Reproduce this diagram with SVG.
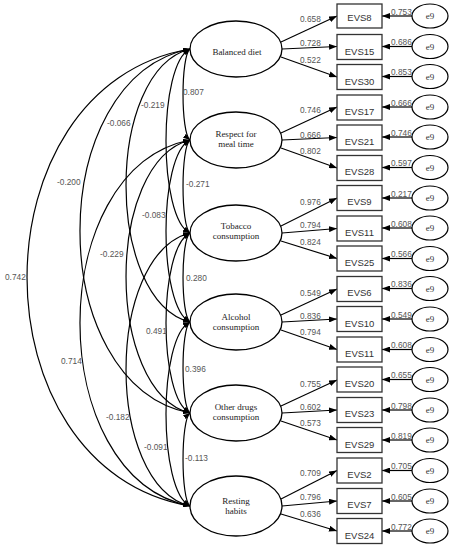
<svg xmlns="http://www.w3.org/2000/svg" width="455" height="550" viewBox="0 0 455 550">
<style>
.lat{fill:#fff;stroke:#000;stroke-width:1.3}
.box{fill:#fff;stroke:#333;stroke-width:1.3}
.err{fill:#fff;stroke:#000;stroke-width:1.2}
.lt{font-family:"Liberation Serif",serif;font-size:9px;fill:#222;text-anchor:middle}
.bt{font-family:"Liberation Sans",sans-serif;font-size:9.5px;fill:#333;text-anchor:middle}
.et{font-family:"Liberation Serif",serif;font-size:9px;fill:#333;text-anchor:middle}
.num{font-family:"Liberation Sans",sans-serif;font-size:8.3px;fill:#555}
.ln{fill:none;stroke:#000;stroke-width:1.2}
.arc{fill:none;stroke:#000;stroke-width:1.2;marker-start:url(#ah2);marker-end:url(#ah2)}
.arr{marker-end:url(#ah)}
</style>
<defs>
<marker id="ah" viewBox="0 0 8 6" refX="8" refY="3" markerWidth="8" markerHeight="6" orient="auto" markerUnits="userSpaceOnUse"><path d="M0,0 L8,3 L0,6 z" fill="#000"/></marker>
<marker id="ah2" viewBox="0 0 7 5" refX="7" refY="2.5" markerWidth="7" markerHeight="5" orient="auto-start-reverse" markerUnits="userSpaceOnUse"><path d="M0,0 L7,2.5 L0,5 z" fill="#000"/></marker>
</defs>

<g id="connectors">
<g id="covariances">
<path class="arc" d="M190,49 C180.7,56 180.7,133 190,140"/>
<path class="arc" d="M190,49 C158,64 158,218 190,233"/>
<path class="arc" d="M190,49 C104.7,71 104.7,300 190,322"/>
<path class="arc" d="M190,49 C43.3,78 43.3,384 190,413"/>
<path class="arc" d="M190,49 C-27.3,86 -27.3,469 190,506"/>
<path class="arc" d="M190,140 C180.7,147 180.7,226 190,233"/>
<path class="arc" d="M190,140 C158,155 158,307 190,322"/>
<path class="arc" d="M190,140 C104.7,162 104.7,391 190,413"/>
<path class="arc" d="M190,140 C43.3,169 43.3,477 190,506"/>
<path class="arc" d="M190,233 C180.7,240 180.7,315 190,322"/>
<path class="arc" d="M190,233 C158,248 158,398 190,413"/>
<path class="arc" d="M190,233 C104.7,255 104.7,484 190,506"/>
<path class="arc" d="M190,322 C180.7,329 180.7,406 190,413"/>
<path class="arc" d="M190,322 C158,337 158,491 190,506"/>
<path class="arc" d="M190,413 C180.7,420 180.7,499 190,506"/>
</g>
<g id="cov-labels" class="num">
<text x="183" y="95">0.807</text>
<text x="141" y="108">-0.219</text>
<text x="107" y="126">-0.066</text>
<text x="57" y="185">-0.200</text>
<text x="5" y="280">0.742</text>
<text x="186" y="187">-0.271</text>
<text x="142" y="218">-0.083</text>
<text x="100" y="257">-0.229</text>
<text x="61" y="364">0.714</text>
<text x="186" y="281">0.280</text>
<text x="146" y="334">0.491</text>
<text x="106" y="420">-0.182</text>
<text x="185" y="372">0.396</text>
<text x="144" y="450">-0.091</text>
<text x="185" y="461">-0.113</text>
</g>
<g id="loadings">
<line class="ln arr" x1="281" y1="42" x2="337" y2="16"/>
<line class="ln arr" x1="282" y1="49" x2="337" y2="46.5"/>
<line class="ln arr" x1="281" y1="57" x2="337" y2="77"/>
<line class="ln arr" x1="281" y1="133" x2="337" y2="107"/>
<line class="ln arr" x1="282" y1="140" x2="337" y2="137.5"/>
<line class="ln arr" x1="281" y1="148" x2="337" y2="168"/>
<line class="ln arr" x1="281" y1="226" x2="337" y2="198"/>
<line class="ln arr" x1="282" y1="233" x2="337" y2="228.5"/>
<line class="ln arr" x1="281" y1="241" x2="337" y2="258.5"/>
<line class="ln arr" x1="281" y1="315" x2="337" y2="289"/>
<line class="ln arr" x1="282" y1="322" x2="337" y2="319"/>
<line class="ln arr" x1="281" y1="330" x2="337" y2="349.5"/>
<line class="ln arr" x1="281" y1="406" x2="337" y2="380"/>
<line class="ln arr" x1="282" y1="413" x2="337" y2="410"/>
<line class="ln arr" x1="281" y1="421" x2="337" y2="440"/>
<line class="ln arr" x1="281" y1="499" x2="337" y2="470.5"/>
<line class="ln arr" x1="282" y1="506" x2="337" y2="501"/>
<line class="ln arr" x1="281" y1="514" x2="337" y2="531"/>
</g>
<g id="loading-labels" class="num">
<text x="300" y="22">0.658</text>
<text x="300" y="46">0.728</text>
<text x="300" y="63">0.522</text>
<text x="300" y="113">0.746</text>
<text x="300" y="138">0.666</text>
<text x="300" y="154">0.802</text>
<text x="300" y="205">0.976</text>
<text x="300" y="228">0.794</text>
<text x="300" y="245">0.824</text>
<text x="300" y="296">0.549</text>
<text x="300" y="319">0.836</text>
<text x="300" y="335">0.794</text>
<text x="300" y="387">0.755</text>
<text x="300" y="410">0.602</text>
<text x="300" y="426">0.573</text>
<text x="300" y="476">0.709</text>
<text x="300" y="500">0.796</text>
<text x="300" y="517">0.636</text>
</g>
<g id="error-paths">
<line class="ln arr" x1="412" y1="16" x2="382" y2="16"/>
<line class="ln arr" x1="412" y1="46.5" x2="382" y2="46.5"/>
<line class="ln arr" x1="412" y1="76.5" x2="382" y2="76.5"/>
<line class="ln arr" x1="412" y1="107" x2="382" y2="107"/>
<line class="ln arr" x1="412" y1="137" x2="382" y2="137"/>
<line class="ln arr" x1="412" y1="167.5" x2="382" y2="167.5"/>
<line class="ln arr" x1="412" y1="198" x2="382" y2="198"/>
<line class="ln arr" x1="412" y1="228" x2="382" y2="228"/>
<line class="ln arr" x1="412" y1="258.5" x2="382" y2="258.5"/>
<line class="ln arr" x1="412" y1="288.5" x2="382" y2="288.5"/>
<line class="ln arr" x1="412" y1="319" x2="382" y2="319"/>
<line class="ln arr" x1="412" y1="349.5" x2="382" y2="349.5"/>
<line class="ln arr" x1="412" y1="379.5" x2="382" y2="379.5"/>
<line class="ln arr" x1="412" y1="410" x2="382" y2="410"/>
<line class="ln arr" x1="412" y1="440" x2="382" y2="440"/>
<line class="ln arr" x1="412" y1="470.5" x2="382" y2="470.5"/>
<line class="ln arr" x1="412" y1="501" x2="382" y2="501"/>
<line class="ln arr" x1="412" y1="531" x2="382" y2="531"/>
</g>
<g id="error-labels" class="num">
<text x="391" y="14.5">0.753</text>
<text x="391" y="45">0.686</text>
<text x="391" y="75">0.853</text>
<text x="391" y="105.5">0.666</text>
<text x="391" y="135.5">0.746</text>
<text x="391" y="166">0.597</text>
<text x="391" y="196.5">0.217</text>
<text x="391" y="226.5">0.608</text>
<text x="391" y="257">0.566</text>
<text x="391" y="287">0.836</text>
<text x="391" y="317.5">0.549</text>
<text x="391" y="348">0.608</text>
<text x="391" y="378">0.655</text>
<text x="391" y="408.5">0.798</text>
<text x="391" y="438.5">0.819</text>
<text x="391" y="469">0.705</text>
<text x="391" y="499.5">0.605</text>
<text x="391" y="529.5">0.772</text>
</g>
</g>

<g id="latent-balanced"><ellipse class="lat" cx="236" cy="49" rx="46" ry="28"/><text class="lt" x="237" y="55">Balanced diet</text></g>
<g id="latent-respect"><ellipse class="lat" cx="236" cy="140" rx="46" ry="28"/><text class="lt" x="236" y="137">Respect for</text><text class="lt" x="236" y="147">meal time</text></g>
<g id="latent-tobacco"><ellipse class="lat" cx="236" cy="233" rx="46" ry="28"/><text class="lt" x="236" y="229">Tobacco</text><text class="lt" x="236" y="239">consumption</text></g>
<g id="latent-alcohol"><ellipse class="lat" cx="236" cy="322" rx="46" ry="28"/><text class="lt" x="236" y="320">Alcohol</text><text class="lt" x="236" y="330">consumption</text></g>
<g id="latent-otherdrugs"><ellipse class="lat" cx="236" cy="413" rx="46" ry="28"/><text class="lt" x="236" y="410">Other drugs</text><text class="lt" x="236" y="420">consumption</text></g>
<g id="latent-resting"><ellipse class="lat" cx="236" cy="506" rx="46" ry="30"/><text class="lt" x="236" y="504">Resting</text><text class="lt" x="236" y="514">habits</text></g>

<g id="box-evs8"><rect class="box" x="337" y="4" width="45" height="24"/><text class="bt" x="359.5" y="20.5">EVS8</text></g>
<g id="box-evs15"><rect class="box" x="337" y="34.5" width="45" height="25"/><text class="bt" x="359.5" y="54.5">EVS15</text></g>
<g id="box-evs30"><rect class="box" x="337" y="64.5" width="45" height="25"/><text class="bt" x="359.5" y="84.5">EVS30</text></g>
<g id="box-evs17"><rect class="box" x="337" y="95" width="45" height="25"/><text class="bt" x="359.5" y="114.5">EVS17</text></g>
<g id="box-evs21"><rect class="box" x="337" y="125" width="45" height="25"/><text class="bt" x="359.5" y="145">EVS21</text></g>
<g id="box-evs28"><rect class="box" x="337" y="155.5" width="45" height="25"/><text class="bt" x="359.5" y="175">EVS28</text></g>
<g id="box-evs9"><rect class="box" x="337" y="185.5" width="45" height="25"/><text class="bt" x="359.5" y="205">EVS9</text></g>
<g id="box-evs11a"><rect class="box" x="337" y="216" width="45" height="25"/><text class="bt" x="359.5" y="235.5">EVS11</text></g>
<g id="box-evs25"><rect class="box" x="337" y="246" width="45" height="25"/><text class="bt" x="359.5" y="266">EVS25</text></g>
<g id="box-evs6"><rect class="box" x="337" y="276.5" width="45" height="25"/><text class="bt" x="359.5" y="296">EVS6</text></g>
<g id="box-evs10"><rect class="box" x="337" y="306.5" width="45" height="25"/><text class="bt" x="359.5" y="326.5">EVS10</text></g>
<g id="box-evs11b"><rect class="box" x="337" y="337" width="45" height="25"/><text class="bt" x="359.5" y="356.5">EVS11</text></g>
<g id="box-evs20"><rect class="box" x="337" y="367" width="45" height="25"/><text class="bt" x="359.5" y="387">EVS20</text></g>
<g id="box-evs23"><rect class="box" x="337" y="397.5" width="45" height="25"/><text class="bt" x="359.5" y="417">EVS23</text></g>
<g id="box-evs29"><rect class="box" x="337" y="427.5" width="45" height="25"/><text class="bt" x="359.5" y="447.5">EVS29</text></g>
<g id="box-evs2"><rect class="box" x="337" y="458" width="45" height="25"/><text class="bt" x="359.5" y="477.5">EVS2</text></g>
<g id="box-evs7"><rect class="box" x="337" y="488.5" width="45" height="25"/><text class="bt" x="359.5" y="508">EVS7</text></g>
<g id="box-evs24"><rect class="box" x="337" y="518.5" width="45" height="25"/><text class="bt" x="359.5" y="538.5">EVS24</text></g>

<g id="e-1"><ellipse class="err" cx="430" cy="16" rx="18" ry="12"/><text class="et" x="430" y="19">e9</text></g>
<g id="e-2"><ellipse class="err" cx="430" cy="46.5" rx="18" ry="12"/><text class="et" x="430" y="49.5">e9</text></g>
<g id="e-3"><ellipse class="err" cx="430" cy="76.5" rx="18" ry="12"/><text class="et" x="430" y="79.5">e9</text></g>
<g id="e-4"><ellipse class="err" cx="430" cy="107" rx="18" ry="12"/><text class="et" x="430" y="110">e9</text></g>
<g id="e-5"><ellipse class="err" cx="430" cy="137" rx="18" ry="12"/><text class="et" x="430" y="140">e9</text></g>
<g id="e-6"><ellipse class="err" cx="430" cy="167.5" rx="18" ry="12"/><text class="et" x="430" y="170.5">e9</text></g>
<g id="e-7"><ellipse class="err" cx="430" cy="198" rx="18" ry="12"/><text class="et" x="430" y="201">e9</text></g>
<g id="e-8"><ellipse class="err" cx="430" cy="228" rx="18" ry="12"/><text class="et" x="430" y="231">e9</text></g>
<g id="e-9"><ellipse class="err" cx="430" cy="258.5" rx="18" ry="12"/><text class="et" x="430" y="261.5">e9</text></g>
<g id="e-10"><ellipse class="err" cx="430" cy="288.5" rx="18" ry="12"/><text class="et" x="430" y="291.5">e9</text></g>
<g id="e-11"><ellipse class="err" cx="430" cy="319" rx="18" ry="12"/><text class="et" x="430" y="322">e9</text></g>
<g id="e-12"><ellipse class="err" cx="430" cy="349.5" rx="18" ry="12"/><text class="et" x="430" y="352.5">e9</text></g>
<g id="e-13"><ellipse class="err" cx="430" cy="379.5" rx="18" ry="12"/><text class="et" x="430" y="382.5">e9</text></g>
<g id="e-14"><ellipse class="err" cx="430" cy="410" rx="18" ry="12"/><text class="et" x="430" y="413">e9</text></g>
<g id="e-15"><ellipse class="err" cx="430" cy="440" rx="18" ry="12"/><text class="et" x="430" y="443">e9</text></g>
<g id="e-16"><ellipse class="err" cx="430" cy="470.5" rx="18" ry="12"/><text class="et" x="430" y="473.5">e9</text></g>
<g id="e-17"><ellipse class="err" cx="430" cy="501" rx="18" ry="12"/><text class="et" x="430" y="504">e9</text></g>
<g id="e-18"><ellipse class="err" cx="430" cy="531" rx="18" ry="12"/><text class="et" x="430" y="534">e9</text></g>
</svg>
